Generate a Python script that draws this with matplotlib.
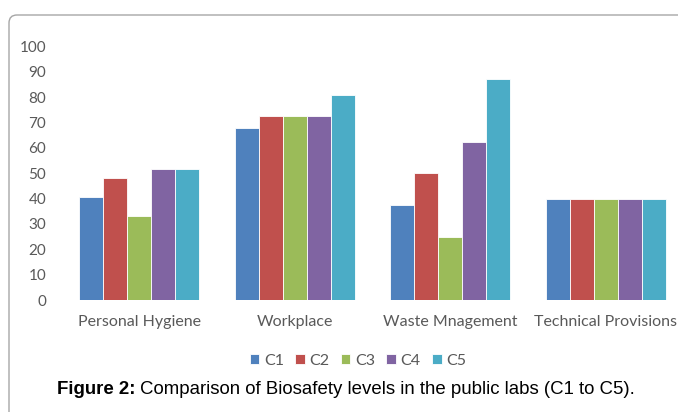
import matplotlib.pyplot as plt
import numpy as np
from matplotlib.patches import FancyBboxPatch

categories = ['Personal Hygiene', 'Workplace', 'Waste Mnagement', 'Technical Provisions']
series = ['C1', 'C2', 'C3', 'C4', 'C5']
c1 = [40.5, 68, 37.5, 40]
c2 = [48, 72.5, 50, 40]
c3 = [33, 72.5, 25, 40]
c4 = [51.7, 72.5, 62.3, 40]
c5 = [51.7, 81, 87.2, 40]
colors = ['#4F81BD', '#C0504D', '#9BBB59', '#8064A2', '#4BACC6']

plt.rcParams['font.family'] = ['Lato', 'DejaVu Sans']

fig = plt.figure(figsize=(6.78, 4.12), dpi=100)
W, H = 678, 412
ax = fig.add_axes([61.5 / W, 112 / H, 622 / W, 253.5 / H])

x = np.arange(len(categories))
bw = 0.154
for i, (vals, name) in enumerate(zip([c1, c2, c3, c4, c5], series)):
    ax.bar(x + (i - 2) * bw, vals, bw, color=colors[i], label=name,
           edgecolor='white', linewidth=0.6)

ax.set_xlim(-0.5, 3.5)
ax.set_ylim(0, 100)
ax.set_yticks(range(0, 101, 10))
ax.set_xticks(x)
ax.set_xticklabels(categories)
ax.tick_params(length=0, labelsize=11, colors='#595959')
ax.tick_params(axis='x', pad=11, labelsize=11.5)
ax.tick_params(axis='y', pad=11)
for s in ax.spines.values():
    s.set_visible(False)

leg = fig.legend(loc='center', bbox_to_anchor=(358 / W, 1 - 361 / H), ncol=5,
                 frameon=False, fontsize=11.5, handlelength=0.6, handleheight=0.6,
                 handletextpad=0.3, columnspacing=0.7, labelcolor='#595959')

# outer frame with rounded corner, running off the right and bottom edges
frame = FancyBboxPatch((0.09, -0.5), 7.5, 3.97 + 0.5,
                       boxstyle='round,pad=0,rounding_size=0.08',
                       transform=fig.dpi_scale_trans, fill=False,
                       edgecolor='#A6A6A6', linewidth=1.0, clip_on=False)
fig.patches.append(frame)

# caption
t1 = fig.text(57 / W, 1 - 389 / H, 'Figure 2:', fontsize=13.4, fontweight='bold',
              family='Liberation Sans', va='center', ha='left')
fig.canvas.draw()
bb = t1.get_window_extent()
fig.text((bb.x1 + 4) / W, 1 - 389 / H,
         'Comparison of Biosafety levels in the public labs (C1 to C5).',
         fontsize=13.4, family='Liberation Sans', va='center', ha='left')

fig.savefig('out.png', dpi=100)
